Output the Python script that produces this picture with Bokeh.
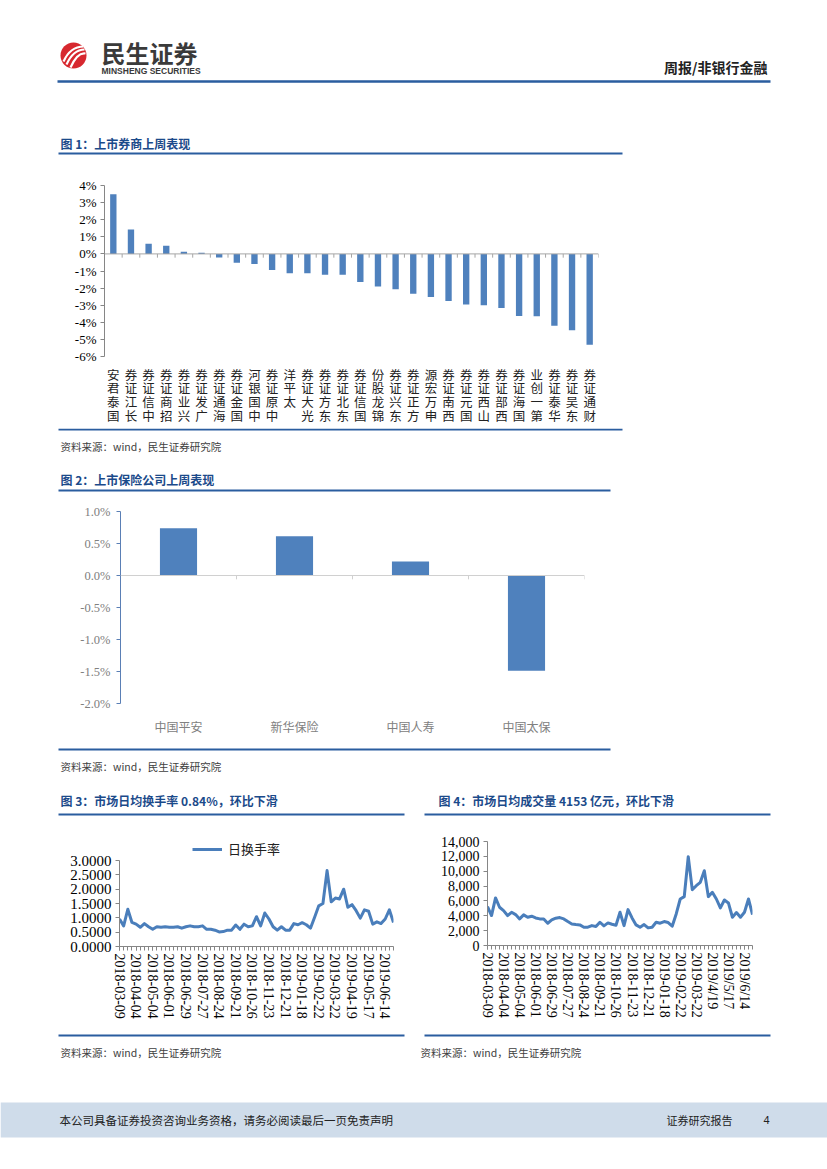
from bokeh.plotting import figure
from bokeh.layouts import column, row
from bokeh.models import (Range1d, FactorRange, FixedTicker, NumeralTickFormatter,
                          Span, Legend, LegendItem)
from bokeh.core.properties import value
from bokeh.embed import file_html
from bokeh.resources import INLINE

# ---------------- data ----------------
broker_names = ["国泰君安", "长江证券", "中信证券", "招商证券", "兴业证券", "广发证券", "海通证券",
                "国金证券", "中国银河", "中原证券", "太平洋", "光大证券", "东方证券", "东北证券",
                "国信证券", "锦龙股份", "东兴证券", "方正证券", "申万宏源", "西南证券", "国元证券",
                "山西证券", "西部证券", "国海证券", "第一创业", "华泰证券", "东吴证券", "财通证券"]
broker_returns = [3.49, 1.43, 0.59, 0.48, 0.13, 0.06, -0.21, -0.52, -0.59, -0.94, -1.13, -1.13,
                  -1.22, -1.22, -1.64, -1.91, -2.06, -2.33, -2.52, -2.75, -2.96, -3.00, -3.17,
                  -3.63, -3.65, -4.20, -4.47, -5.32]
broker_ticks = [-6, -5, -4, -3, -2, -1, 0, 1, 2, 3, 4]

insurer_names = ["中国平安", "新华保险", "中国人寿", "中国太保"]
insurer_returns = [0.74, 0.615, 0.22, -1.49]
insurer_ticks = [-2.0, -1.5, -1.0, -0.5, 0.0, 0.5, 1.0]

week_labels_3 = ["2018-03-09", "2018-04-04", "2018-05-04", "2018-06-01", "2018-06-29",
                 "2018-07-27", "2018-08-24", "2018-09-21", "2018-10-26", "2018-11-23",
                 "2018-12-21", "2019-01-18", "2019-02-22", "2019-03-22", "2019-04-19",
                 "2019-05-17", "2019-06-14"]
week_labels_4 = ["2018-03-09", "2018-04-04", "2018-05-04", "2018-06-01", "2018-06-29",
                 "2018-07-27", "2018-08-24", "2018-09-21", "2018-10-26", "2018-11-23",
                 "2018-12-21", "2019-01-18", "2019-02-22", "2019-03-22", "2019/4/19",
                 "2019/5/17", "2019/6/14"]
label_every = 4

turnover = [0.96, 0.72, 1.30, 0.84, 0.78, 0.67, 0.80, 0.69, 0.60, 0.69,
            0.67, 0.69, 0.67, 0.67, 0.69, 0.64, 0.69, 0.72, 0.69, 0.69,
            0.72, 0.60, 0.60, 0.57, 0.51, 0.52, 0.57, 0.57, 0.75, 0.60,
            0.78, 0.69, 0.72, 1.04, 0.72, 1.17, 0.96, 0.69, 0.57, 0.69,
            0.57, 0.57, 0.80, 0.76, 0.83, 0.76, 0.64, 1.02, 1.42, 1.50,
            2.65, 1.56, 1.69, 1.66, 2.00, 1.37, 1.46, 1.25, 0.99, 1.28,
            1.23, 0.78, 0.86, 0.80, 0.96, 1.28, 0.84]
turnover_ticks = [0.0, 0.5, 1.0, 1.5, 2.0, 2.5, 3.0]

volume = [5240, 4030, 6400, 5150, 4700, 4030, 4470, 4160, 3580, 4120,
          3800, 3940, 3710, 3580, 3580, 3000, 3440, 3670, 3760, 3580,
          3220, 2900, 2820, 2770, 2460, 2460, 2680, 2550, 3130, 2640,
          3040, 2860, 2730, 4470, 2680, 4830, 3710, 2770, 2460, 2820,
          2370, 2460, 3130, 3000, 3220, 3090, 2600, 4250, 6260, 6580,
          11950, 7520, 8050, 8500, 10070, 6580, 7160, 6260, 5060, 6130,
          5730, 3800, 4430, 3800, 4470, 6260, 4153]
volume_ticks = [0, 2000, 4000, 6000, 8000, 10000, 12000, 14000]

# ---------------- styles ----------------
CJK = "Noto Sans CJK SC"
SERIF = "Liberation Serif"
BAR = "#4f81bd"
LINE = "#4a7ebb"
RULE = "#2a5d9f"
TITLE = "#1b4a8a"
AXIS = "#868686"
PAGE_X0, PAGE_X1 = 0, 827
PAGE_W = PAGE_X1 - PAGE_X0


def strip(y0, y1):
    p = figure(width=PAGE_W, height=y1 - y0, x_range=Range1d(PAGE_X0, PAGE_X1),
               y_range=Range1d(y1, y0), x_axis_type=None, y_axis_type=None,
               toolbar_location=None, output_backend="svg", min_border=0)
    p.outline_line_color = None
    p.frame_align = False
    return p


def txt(p, x, y, s, size, color, font=CJK, style="normal", align="left"):
    p.text(x=[x], y=[y], text=[s], text_font=value(font), text_font_size=size,
           text_font_style=style, text_color=color, text_align=align, text_baseline="middle")


def rule(p, x0, x1, y, width=2, color=RULE):
    p.segment(x0=[x0], y0=[y], x1=[x1], y1=[y], line_color=color, line_width=width)


def base_chart(w, h, xr, yr, left, right, top, bottom):
    p = figure(width=w, height=h, x_range=xr, y_range=yr, toolbar_location=None,
               output_backend="svg", min_border_left=left, min_border_right=right,
               min_border_top=top, min_border_bottom=bottom)
    p.outline_line_color = None
    p.frame_align = False
    p.xgrid.visible = False
    p.ygrid.visible = False
    return p


SOURCE = "资料来源：wind，民生证券研究院"

# ---------------- header ----------------
hdr = strip(0, 110)
hdr.circle(x=[73], y=[55], radius=13, fill_color="#d7282f", line_color=None)
hdr.bezier(x0=[63, 66, 70], y0=[61, 64, 67], x1=[83, 84, 85], y1=[46, 49, 53],
           cx0=[68, 71, 75], cy0=[50, 53, 56], cx1=[76, 78, 80], cy1=[46, 49, 52],
           line_color="white", line_width=2.2)
txt(hdr, 101, 52, "民生证券", "24px", "#3a3a3a", style="bold")
txt(hdr, 101, 70.5, "MINSHENG SECURITIES", "8.5px", "#3a3a3a", font="Liberation Sans", style="bold")
txt(hdr, 767, 66, "周报/非银行金融", "14px", "#222222", style="bold", align="right")
rule(hdr, 57, 770, 81, width=2.5)

# ---------------- figure 1 ----------------
t1 = strip(110, 172)
txt(t1, 60, 143, "图 1：上市券商上周表现", "12px", TITLE, style="bold")
rule(t1, 58, 622, 153)

f1_factors = ["\n".join(reversed(n)) for n in broker_names]
p1 = base_chart(PAGE_W, 256, FactorRange(factors=f1_factors), Range1d(broker_ticks[0], broker_ticks[-1]),
                104, 229, 13, 69)
p1.vbar(x=f1_factors, top=broker_returns, width=0.36, fill_color=BAR, line_color=None)
p1.add_layout(Span(location=0, dimension="width", line_color="#a6a6a6", line_width=1))
b1 = list(range(len(broker_names) + 1))
p1.segment(x0=b1, y0=[0] * len(b1), x1=b1, y1=[-0.22] * len(b1), line_color="#a6a6a6", line_width=1)
p1.yaxis.ticker = FixedTicker(ticks=broker_ticks)
p1.yaxis.major_label_overrides = {t: f"{t}%" for t in broker_ticks}
p1.yaxis.axis_line_color = AXIS
p1.yaxis.major_tick_line_color = AXIS
p1.yaxis.major_tick_out = 4
p1.yaxis.major_tick_in = 0
p1.yaxis.minor_tick_line_color = None
p1.yaxis.major_label_text_font = SERIF
p1.yaxis.major_label_text_font_size = "13px"
p1.yaxis.major_label_text_color = "#000000"
p1.yaxis.major_label_standoff = 4
p1.xaxis.axis_line_color = None
p1.xaxis.major_tick_line_color = None
p1.xaxis.major_tick_out = 0
p1.xaxis.major_tick_in = 0
p1.xaxis.major_label_text_font = CJK
p1.xaxis.major_label_text_font_size = "12.5px"
p1.xaxis.major_label_text_color = "#222222"
p1.xaxis.major_label_text_line_height = 0.73
p1.xaxis.major_label_standoff = 8

s1 = strip(428, 470)
rule(s1, 58, 622, 429)
txt(s1, 60, 446, SOURCE, "10.5px", "#404040")

# ---------------- figure 2 ----------------
t2 = strip(470, 500)
txt(t2, 60, 479, "图 2：上市保险公司上周表现", "12px", TITLE, style="bold")
rule(t2, 58, 610, 490)

p2 = base_chart(PAGE_W, 245, FactorRange(factors=insurer_names),
                Range1d(insurer_ticks[0], insurer_ticks[-1]), 120, 243, 11, 42)
p2.vbar(x=insurer_names, top=insurer_returns, width=0.32, fill_color=BAR, line_color=None)
p2.add_layout(Span(location=0, dimension="width", line_color="#d0d0d0", line_width=1))
b2 = list(range(len(insurer_names) + 1))
p2.segment(x0=b2, y0=[0] * len(b2), x1=b2, y1=[-0.06] * len(b2), line_color="#d0d0d0", line_width=1)
p2.yaxis.ticker = FixedTicker(ticks=insurer_ticks)
p2.yaxis.major_label_overrides = {t: f"{t:.1f}%" for t in insurer_ticks}
p2.yaxis.axis_line_color = "#5a7fb5"
p2.yaxis.major_tick_line_color = "#5a7fb5"
p2.yaxis.major_tick_out = 4
p2.yaxis.major_tick_in = 0
p2.yaxis.minor_tick_line_color = None
p2.yaxis.major_label_text_font = SERIF
p2.yaxis.major_label_text_font_size = "12.5px"
p2.yaxis.major_label_text_color = "#808080"
p2.yaxis.major_label_standoff = 6
p2.xaxis.axis_line_color = None
p2.xaxis.major_tick_line_color = None
p2.xaxis.major_label_text_font = CJK
p2.xaxis.major_label_text_font_size = "12px"
p2.xaxis.major_label_text_color = "#808080"
p2.xaxis.major_label_standoff = 8

s2 = strip(745, 790)
rule(s2, 58, 610, 749)
txt(s2, 60, 766, SOURCE, "10.5px", "#404040")

# ---------------- figures 3 & 4 ----------------
t34 = strip(790, 830)
txt(t34, 60, 800, "图 3：市场日均换手率 0.84%，环比下滑", "12px", TITLE, style="bold")
txt(t34, 438, 800, "图 4：市场日均成交量 4153 亿元，环比下滑", "12px", TITLE, style="bold")
rule(t34, 58, 404, 814)
rule(t34, 424, 770, 814)


def week_axis(p, labels):
    n = len(turnover)
    major = list(range(0, n, label_every))[:len(labels)]
    p.xaxis.ticker = FixedTicker(ticks=major, minor_ticks=list(range(n)))
    p.xaxis.major_label_overrides = {i: lbl for i, lbl in zip(major, labels)}
    p.xaxis.major_label_orientation = "vertical"
    p.xaxis.major_label_text_font = SERIF
    p.xaxis.major_label_text_font_size = "14px"
    p.xaxis.major_label_text_color = "#000000"
    p.xaxis.major_label_standoff = 3
    p.xaxis.axis_line_color = AXIS
    p.xaxis.major_tick_line_color = AXIS
    p.xaxis.minor_tick_line_color = AXIS
    p.xaxis.major_tick_out = 4
    p.xaxis.major_tick_in = 0
    p.xaxis.minor_tick_out = 4
    p.xaxis.minor_tick_in = 0


def val_axis(p, ticks, fmt, size):
    p.yaxis.ticker = FixedTicker(ticks=ticks)
    p.yaxis.formatter = NumeralTickFormatter(format=fmt)
    p.yaxis.bounds = (ticks[0], ticks[-1])
    p.yaxis.axis_line_color = AXIS
    p.yaxis.major_tick_line_color = AXIS
    p.yaxis.major_tick_out = 4
    p.yaxis.major_tick_in = 0
    p.yaxis.minor_tick_line_color = None
    p.yaxis.major_label_text_font = SERIF
    p.yaxis.major_label_text_font_size = size
    p.yaxis.major_label_text_color = "#000000"
    p.yaxis.major_label_standoff = 4


xs = list(range(len(turnover)))
p3 = base_chart(416, 200, Range1d(xs[0], xs[-1]), Range1d(0, 3.84), 119, 23, 6, 84)
r3 = p3.line(xs, turnover, line_color=LINE, line_width=3, line_join="round")
week_axis(p3, week_labels_3)
val_axis(p3, turnover_ticks, "0.0000", "15px")
leg = Legend(items=[LegendItem(label="日换手率", renderers=[r3])], location=(73, 88),
             orientation="horizontal", border_line_color=None, background_fill_alpha=0,
             padding=0, margin=0, glyph_width=30, glyph_height=14, label_height=14,
             label_standoff=6, label_text_font=CJK, label_text_font_size="13px",
             label_text_color="#222222")
p3.add_layout(leg)

xv = list(range(len(volume)))
p4 = base_chart(411, 200, Range1d(xv[0], xv[-1]), Range1d(volume_ticks[0], volume_ticks[-1]), 71, 75, 11, 85)
p4.line(xv, volume, line_color=LINE, line_width=3, line_join="round")
week_axis(p4, week_labels_4)
val_axis(p4, volume_ticks, "0,0", "14px")

s34 = strip(1030, 1100)
rule(s34, 58, 404, 1035)
rule(s34, 424, 770, 1035)
txt(s34, 60, 1052, SOURCE, "10.5px", "#404040")
txt(s34, 420, 1052, SOURCE, "10.5px", "#404040")

# ---------------- footer ----------------
ft = strip(1100, 1169)
ft.quad(left=[PAGE_X0], right=[PAGE_X1], top=[1102], bottom=[1137], fill_color="#cfdcea", line_color=None)
txt(ft, 59, 1119.5, "本公司具备证券投资咨询业务资格，请务必阅读最后一页免责声明", "11.5px", "#222222")
txt(ft, 666, 1119.5, "证券研究报告", "11px", "#222222")
txt(ft, 763, 1119.5, "4", "11px", "#222222", font="Liberation Sans")

page = column(hdr, t1, p1, s1, t2, p2, s2, t34, row(p3, p4, spacing=0), s34, ft, spacing=0)

open("out.html", "w").write(file_html(page, INLINE))
